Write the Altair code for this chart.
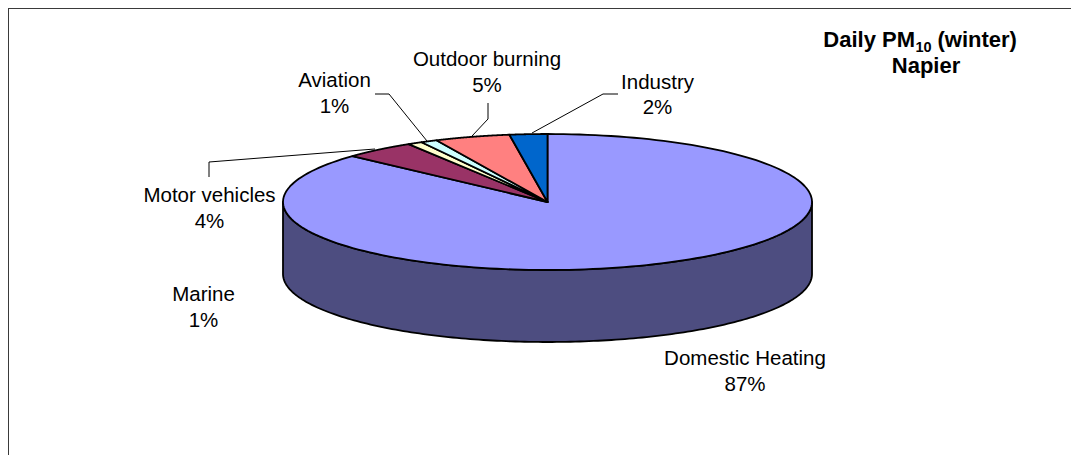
import altair as alt
import pandas as pd

# ---- data ----
categories = ["Domestic Heating", "Motor vehicles", "Marine", "Aviation", "Outdoor burning", "Industry"]
shares = [86.8, 4.4, 0.9, 1.0, 4.6, 2.3]
pct_labels = ["87%", "4%", "1%", "1%", "5%", "2%"]

# ---- styles ----
top_colors = ["#9999FF", "#993366", "#FFFFCC", "#CCFFFF", "#FF8080", "#0066CC"]
side_colors = ["#4D4D80", "#4D1A33", "#808066", "#668080", "#804040", "#003366"]
FONT = "Liberation Sans"

# ---- layout (page pixels, converted to plot units by subtracting the 8px margin) ----
W, H = 1063, 447
OFF = 8
CX, CY, RX, RY, DEPTH = 547.5 - OFF, 202 - OFF, 264.5, 68, 72
N = 180

label_pos = {  # centre x, first-line baseline y (page px)
    "Domestic Heating": (745, 365),
    "Motor vehicles": (209.5, 202),
    "Marine": (203.5, 301),
    "Aviation": (334.5, 87),
    "Outdoor burning": (487, 66),
    "Industry": (657.5, 88.5),
}
leaders = {
    "Motor vehicles": [(209, 177), (209, 162), (375, 149)],
    "Aviation": [(375, 94), (389, 94), (427, 141)],
    "Outdoor burning": [(488, 103), (488, 119), (472, 136)],
    "Industry": [(618, 94), (603, 94), (532, 133)],
}

slices = pd.DataFrame({"category": categories, "share": shares, "k": list(range(len(categories)))})

xenc = alt.X("px:Q", scale=alt.Scale(domain=[0, W], nice=False, zero=False), axis=None)
yenc = alt.Y("py:Q", scale=alt.Scale(domain=[0, H], nice=False, zero=False, reverse=True), axis=None)

geo = alt.Chart(slices).transform_window(
    cum="sum(share)", sort=[alt.SortField("k")], frame=[None, 0]
).transform_joinaggregate(total="sum(share)").transform_calculate(
    a0="2*PI*(datum.cum - datum.share)/datum.total",
    a1="2*PI*datum.cum/datum.total",
)

# side wall (front half only)
side = geo.transform_calculate(
    s0="max(datum.a0, PI/2)", s1="min(datum.a1, 3*PI/2)"
).transform_filter("datum.s1 > datum.s0").transform_calculate(
    idx=f"sequence(0, {2 * N + 2})"
).transform_flatten(["idx"]).transform_calculate(
    lower=f"datum.idx > {N}",
    t=f"datum.idx <= {N} ? datum.idx/{N} : ({2 * N + 1} - datum.idx)/{N}",
    ang="datum.s0 + (datum.s1 - datum.s0)*datum.t",
    px=f"{CX} + {RX}*sin(datum.ang)",
    py=f"{CY} - {RY}*cos(datum.ang) + (datum.lower ? {DEPTH} : 0)",
).mark_line(interpolate="linear-closed", stroke="black", strokeWidth=1.8, strokeJoin="round").encode(
    x=xenc, y=yenc, order="idx:Q", detail="category:N",
    fill=alt.Fill("category:N", scale=alt.Scale(domain=categories, range=side_colors), legend=None),
)

# top face slices
top = geo.transform_calculate(
    idx=f"sequence(0, {N + 2})"
).transform_flatten(["idx"]).transform_calculate(
    ang=f"datum.a0 + (datum.a1 - datum.a0)*(datum.idx - 1)/{N}",
    px=f"datum.idx == 0 ? {CX} : {CX} + {RX}*sin(datum.ang)",
    py=f"datum.idx == 0 ? {CY} : {CY} - {RY}*cos(datum.ang)",
).mark_line(interpolate="linear-closed", stroke="black", strokeWidth=1.8, strokeJoin="round").encode(
    x=xenc, y=yenc, order="idx:Q", detail="category:N",
    fill=alt.Fill("category:N", scale=alt.Scale(domain=categories, range=top_colors), legend=None),
)

# leader lines
lrows = []
for cat, pts in leaders.items():
    for i, (x, y) in enumerate(pts):
        lrows.append({"category": cat, "seq": i, "px": x - OFF, "py": y - OFF})
leader = alt.Chart(pd.DataFrame(lrows)).mark_line(color="black", strokeWidth=1).encode(
    x=xenc, y=yenc, order="seq:Q", detail="category:N"
)

# labels
lab = pd.DataFrame({
    "category": categories,
    "txt": [f"{c}\n{p}" for c, p in zip(categories, pct_labels)],
    "px": [label_pos[c][0] - OFF for c in categories],
    "py": [label_pos[c][1] - OFF for c in categories],
})
labels = alt.Chart(lab).mark_text(
    font=FONT, fontSize=20.5, lineBreak="\n", lineHeight=25.5, align="center", baseline="alphabetic", color="black"
).encode(x=xenc, y=yenc, text="txt:N")

# title pieces
title_df = pd.DataFrame({
    "t": ["Daily PM", "10", "(winter)", "Napier"],
    "px": [915 - OFF, 915.5 - OFF, 937.5 - OFF, 926 - OFF],
    "py": [47 - OFF, 51.5 - OFF, 47 - OFF, 73 - OFF],
    "part": ["a", "b", "c", "d"],
})
t_a = alt.Chart(title_df).transform_filter("datum.part == 'a'").mark_text(
    font=FONT, fontSize=22, fontWeight="bold", align="right", baseline="alphabetic", color="black"
).encode(x=xenc, y=yenc, text="t:N")
t_b = alt.Chart(title_df).transform_filter("datum.part == 'b'").mark_text(
    font=FONT, fontSize=14.5, fontWeight="bold", align="left", baseline="alphabetic", color="black"
).encode(x=xenc, y=yenc, text="t:N")
t_c = alt.Chart(title_df).transform_filter("datum.part == 'c'").mark_text(
    font=FONT, fontSize=22, fontWeight="bold", align="left", baseline="alphabetic", color="black"
).encode(x=xenc, y=yenc, text="t:N")
t_d = alt.Chart(title_df).transform_filter("datum.part == 'd'").mark_text(
    font=FONT, fontSize=22, fontWeight="bold", align="center", baseline="alphabetic", color="black"
).encode(x=xenc, y=yenc, text="t:N")

# frame (left and top edges)
frame_l = alt.Chart(slices).mark_rule(color="#3a3a3a", strokeWidth=2).encode(
    x=alt.value(0), y=alt.value(0), y2=alt.value(H)
)
frame_t = alt.Chart(slices).mark_rule(color="#3a3a3a", strokeWidth=2).encode(
    x=alt.value(0), x2=alt.value(W), y=alt.value(0)
)

chart = alt.layer(
    side, top, leader, labels, t_a, t_b, t_c, t_d, frame_l, frame_t
).resolve_scale(fill="independent").properties(
    width=W, height=H, padding=0, autosize=alt.AutoSizeParams(type="none")
).configure_view(stroke=None).configure(background="white")

chart.save("out.html", embed_options={"renderer": "svg", "actions": False})
